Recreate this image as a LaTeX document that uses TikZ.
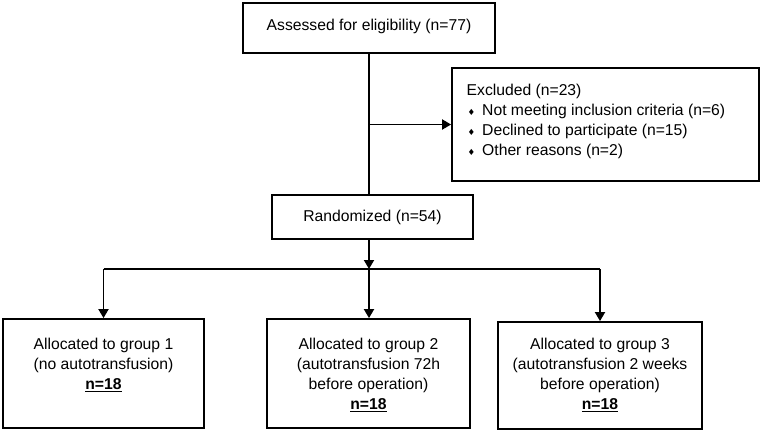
\documentclass[tikz,border=0pt]{standalone}
\usepackage{fontspec}
\setmainfont{Liberation Sans}
\newfontfamily\dejavu{DejaVu Sans}
\usetikzlibrary{arrows.meta}
\newcommand\mybul{\makebox[15.5pt][l]{\hspace{1pt}\raisebox{0.5pt}{\dejavu\fontsize{8.5}{8.5}\selectfont ♦}}}
\tikzset{
  box/.style={draw, line width=1.8pt, inner sep=0pt},
  txt/.style={inner sep=0pt, font=\fontsize{15.7}{20}\selectfont},
  conn/.style={line width=1.8pt},
  arr/.style={line width=1.8pt, -{Triangle[width=10pt,length=9pt]}},
}
\begin{document}
\begin{tikzpicture}[x=1pt,y=-1pt]
\useasboundingbox (0,0) rectangle (761,431);
% boxes
\node[box, minimum width=252pt, minimum height=50pt] (top) at (369,28) {};
\node[txt] (toptxt) at (369,26) {Assessed for eligibility (n=77)};
\node[box, minimum width=307pt, minimum height=113pt] (excl) at (605.5,124.5) {};
\node[txt, align=left, anchor=north west] (excltxt) at (466.5,84) {Excluded (n=23)\\
\mybul Not meeting inclusion criteria (n=6)\\
\mybul Declined to participate (n=15)\\
\mybul Other reasons (n=2)};
\node[box, minimum width=201pt, minimum height=44pt] (rand) at (372.5,217) {};
\node[txt] (randtxt) at (372.5,217) {Randomized (n=54)};
\node[box, minimum width=201pt, minimum height=109pt] (g1) at (103.5,373.5) {};
\node[txt, align=center, anchor=north] (g1txt) at (103.5,338) {Allocated to group 1\\(no autotransfusion)\\\underline{\textbf{n=18}}};
\node[box, minimum width=203pt, minimum height=109pt] (g2) at (368.5,373.5) {};
\node[txt, align=center, anchor=north] (g2txt) at (368.5,338) {Allocated to group 2\\(autotransfusion 72h\\before operation)\\\underline{\textbf{n=18}}};
\node[box, minimum width=204pt, minimum height=107pt] (g3) at (600,375.5) {};
\node[txt, align=center, anchor=north] (g3txt) at (600,338) {Allocated to group 3\\(autotransfusion 2 weeks\\before operation)\\\underline{\textbf{n=18}}};
% connectors
\coordinate (ex) at (369,124.5);
\coordinate (j) at (369,269);
\draw[conn] (top.south -| ex) -- (rand.north -| ex);
\draw[arr] (ex) -- (excl.west);
\draw[arr] (rand.south -| j) -- (j);
\draw[conn] (g1.north |- j) -- (g3.north |- j);
\draw[arr] (g1.north |- j) -- (g1.north);
\draw[arr] (j) -- (j |- g2.north);
\draw[arr] (g3.north |- j) -- (g3.north);
\end{tikzpicture}
\end{document}
